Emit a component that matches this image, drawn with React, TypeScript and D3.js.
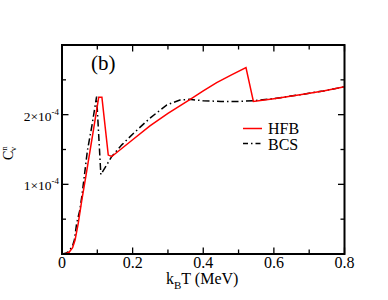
import * as d3 from "d3";

// Specific heat C^n_v vs k_B T, HFB vs BCS (panel b). y in units of 1e-4.
const hfbT = [0, 0.01, 0.02, 0.03, 0.037, 0.046, 0.056, 0.068, 0.079, 0.09, 0.104, 0.113, 0.131, 0.141, 0.2, 0.249, 0.3, 0.363, 0.4, 0.438, 0.48, 0.521, 0.542, 0.6, 0.674, 0.74, 0.8];
const hfbC = [0, 0.005, 0.025, 0.09, 0.2, 0.44, 0.77, 1.13, 1.47, 1.81, 2.25, 2.25, 1.42, 1.4, 1.64, 1.84, 2.02, 2.22, 2.34, 2.46, 2.57, 2.676, 2.19, 2.23, 2.286, 2.34, 2.4];

const bcsT = [0, 0.01, 0.02, 0.03, 0.035, 0.0415, 0.05, 0.056, 0.072, 0.085, 0.098, 0.11, 0.141, 0.17, 0.202, 0.249, 0.297, 0.334, 0.36, 0.4, 0.45, 0.5, 0.542, 0.6, 0.674, 0.74, 0.8];
const bcsC = [0, 0.01, 0.04, 0.12, 0.2, 0.44, 0.62, 0.82, 1.486, 1.85, 2.26, 1.14, 1.4, 1.57, 1.73, 1.95, 2.14, 2.21, 2.22, 2.2, 2.19, 2.19, 2.2, 2.23, 2.286, 2.34, 2.4];

const xMajor = [0, 0.2, 0.4, 0.6, 0.8];
const xMinor = [0.1, 0.3, 0.5, 0.7];
const yMajor = [1, 2];
const yMinor = [0.5, 1.5, 2.5];
const yLabels = ["1×10", "2×10"];

const W = 388;
const H = 300;
const L = 62;
const R = 344.5;
const T = 45;
const B = 254;

const x = d3.scaleLinear().domain([0, 0.8]).range([L, R]);
const y = d3.scaleLinear().domain([0, 3]).range([B, T]);

const line = d3
  .line<[number, number]>()
  .x((d) => x(d[0]))
  .y((d) => y(d[1]));

const serif = "Liberation Serif, Times New Roman, Times, Tinos, Nimbus Roman, DejaVu Serif, serif";

export default function App() {
  const hfb = hfbT.map((t, i) => [t, hfbC[i]] as [number, number]);
  const bcs = bcsT.map((t, i) => [t, bcsC[i]] as [number, number]);
  const dash = "7,3,1.5,3";
  return (
    <div style={{ position: "absolute", left: 0, top: 0 }}>
      <svg width={W} height={H} viewBox={`0 0 ${W} ${H}`} style={{ display: "block", background: "#fff" }}>
        {/* curves */}
        <path d={line(bcs) ?? ""} fill="none" stroke="#000" strokeWidth={1.5} strokeDasharray={dash} />
        <path d={line(hfb) ?? ""} fill="none" stroke="#ff0000" strokeWidth={1.5} />

        <g fontFamily={serif} style={{ fontFamily: serif }}>
          {/* ticks */}
          {xMajor.map((v) => (
            <g key={"xM" + v}>
              <line x1={x(v)} x2={x(v)} y1={B} y2={B - 6.5} stroke="#000" strokeWidth={1.3} />
              <line x1={x(v)} x2={x(v)} y1={T} y2={T + 6.5} stroke="#000" strokeWidth={1.3} />
              <text x={x(v)} y={268} textAnchor="middle" fontSize={16}>{v === 0 ? "0" : v.toFixed(1)}</text>
            </g>
          ))}
          {xMinor.map((v) => (
            <g key={"xm" + v}>
              <line x1={x(v)} x2={x(v)} y1={B} y2={B - 4.5} stroke="#000" strokeWidth={1.3} />
              <line x1={x(v)} x2={x(v)} y1={T} y2={T + 4.5} stroke="#000" strokeWidth={1.3} />
            </g>
          ))}
          {yMajor.map((v, i) => (
            <g key={"yM" + v}>
              <line x1={L} x2={L + 6.5} y1={y(v)} y2={y(v)} stroke="#000" strokeWidth={1.3} />
              <line x1={R} x2={R - 6.5} y1={y(v)} y2={y(v)} stroke="#000" strokeWidth={1.3} />
              <text x={59} y={y(v) + 6} textAnchor="end" fontSize={13.5}>
                {yLabels[i]}
                <tspan fontSize={9} dy={-6}>-4</tspan>
              </text>
            </g>
          ))}
          {yMinor.map((v) => (
            <g key={"ym" + v}>
              <line x1={L} x2={L + 4} y1={y(v)} y2={y(v)} stroke="#000" strokeWidth={1.3} />
              <line x1={R} x2={R - 4} y1={y(v)} y2={y(v)} stroke="#000" strokeWidth={1.3} />
            </g>
          ))}

          {/* frame */}
          <rect x={L} y={T} width={R - L} height={B - T} fill="none" stroke="#000" strokeWidth={2} />

          {/* panel label */}
          <text x={91} y={70} fontSize={21}>(b)</text>

          {/* legend */}
          <line x1={243} x2={262} y1={128.5} y2={128.5} stroke="#ff0000" strokeWidth={1.5} />
          <text x={268} y={134} fontSize={16}>HFB</text>
          <line x1={243} x2={262} y1={143.5} y2={143.5} stroke="#000" strokeWidth={1.5} strokeDasharray="5,3,1.5,3" />
          <text x={268} y={149.5} fontSize={16}>BCS</text>

          {/* axis titles */}
          <text x={166} y={284} fontSize={16}>
            k<tspan fontSize={11} dy={5}>B</tspan>
            <tspan dy={-5}>T (MeV)</tspan>
          </text>
          <text transform="translate(13,160) rotate(-90)" fontSize={14}>
            C<tspan fontSize={9} dy={-6}>n</tspan>
            <tspan fontSize={9} dx={-5} dy={9}>v</tspan>
          </text>
        </g>
      </svg>
    </div>
  );
}
